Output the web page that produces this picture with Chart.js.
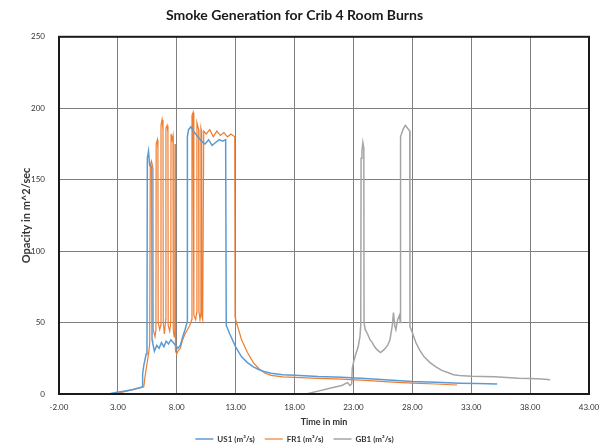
<!DOCTYPE html>
<html>
<head>
<meta charset="utf-8">
<script src="https://cdn.jsdelivr.net/npm/chart.js@4.4.1/dist/chart.umd.min.js"></script>
<style>
    html, body { margin: 0; padding: 0; background: #ffffff; }
</style>
</head>
<body>
<canvas id="smoke-chart" width="600" height="447"></canvas>
<script>
// Values (time in min, opacity in m^2/sec)
const xTicks = [-2, 3, 8, 13, 18, 23, 28, 33, 38, 43];

const us1Time = [2.2, 2.8, 3.5, 4.2, 4.9, 5.05, 5.1, 5.2, 5.3, 5.4, 5.47, 5.5, 5.6, 5.7, 5.8, 5.88, 5.9,
    5.95, 6.1, 6.3, 6.5, 6.7, 6.9, 7.1, 7.3, 7.5, 7.7, 7.9, 8.1, 8.3, 8.5, 8.7, 8.87, 8.9, 9.0, 9.2,
    9.5, 9.8, 10.1, 10.4, 10.7, 11.0, 11.3, 11.6, 11.9, 12.15, 12.2, 12.5, 13.0, 13.5, 14.0, 14.5,
    15.0, 15.5, 16.0, 17.0, 18.0, 20.0, 22.0, 24.0, 26.0, 28.0, 30.0, 32.0, 33.5, 35.2];
const us1Val = [0, 1, 2, 3, 4.5, 5, 14, 20, 24, 28, 32, 165, 170, 160, 160, 158, 38,
    36, 30, 34, 32, 36, 33, 37, 35, 38, 36, 34, 32, 34, 40, 45, 50, 180, 185, 187,
    183, 180, 177, 175, 178, 174, 176, 178, 177, 178, 48, 42, 33, 26, 22, 19,
    17, 15.5, 14.5, 13.5, 13.2, 12.3, 11.8, 10.8, 9.8, 8.8, 8.2, 7.6, 7.4, 7];

const fr1Time = [2.5, 3.2, 4.0, 4.8, 5.2, 5.3, 5.45, 5.6, 5.7, 5.75, 5.85, 5.98, 6.0, 6.15, 6.23,
    6.25, 6.35, 6.4, 6.42, 6.55, 6.64, 6.66, 6.75, 6.83, 6.85, 6.95, 7.06, 7.08, 7.18, 7.25,
    7.27, 7.4, 7.49, 7.51, 7.6, 7.68, 7.7, 7.78, 7.83, 7.85, 7.88, 7.9, 8.0, 8.1, 8.3, 8.5,
    8.7, 8.9, 9.1, 9.27, 9.29, 9.38, 9.44, 9.46, 9.6, 9.69, 9.71, 9.8, 9.86, 9.88, 9.97,
    10.03, 10.05, 10.1, 10.12, 10.2, 10.29, 10.5, 10.8, 11.1, 11.4, 11.7, 12.0, 12.3, 12.6,
    12.92, 12.95, 13.0, 13.5, 14.0, 14.5, 15.0, 15.5, 16.0, 17.0, 18.0, 20.0, 22.0, 24.0,
    26.0, 28.0, 30.0, 31.8];
const fr1Val = [0, 1, 2.5, 4, 5, 12, 20, 28, 35, 160, 163, 158, 45, 40, 45,
    175, 178, 172, 50, 45, 48, 188, 192, 185, 50, 42, 52, 186, 188, 183,
    48, 44, 50, 182, 178, 181, 45, 40, 45, 175, 172, 30, 28, 30, 32, 38,
    42, 45, 48, 52, 195, 197, 188, 55, 52, 57, 190, 187, 185, 58, 52,
    56, 186, 184, 55, 52, 184, 182, 185, 180, 184, 181, 183, 180, 182,
    180, 54, 52, 38, 29, 22, 17.5, 14.5, 13, 12, 11.6, 11, 10.4, 9.5,
    8.5, 7.6, 7, 6.3];

const gb1Time = [15.0, 19.0, 19.5, 20.0, 21.0, 22.0, 22.5, 22.7, 22.85, 22.9, 23.0, 23.2, 23.4,
    23.55, 23.62, 23.65, 23.72, 23.8, 23.88, 23.9, 24.0, 24.2, 24.4, 24.6, 24.8, 25.0, 25.3,
    25.6, 25.9, 26.1, 26.3, 26.4, 26.5, 26.6, 26.75, 26.9, 26.98, 27.0, 27.2, 27.4, 27.6,
    27.78, 27.8, 28.0, 28.3, 28.6, 29.0, 29.5, 30.0, 30.5, 31.0, 31.5, 32.0, 33.0, 34.0,
    35.0, 36.0, 37.0, 38.0, 39.0, 39.7];
const gb1Val = [0, 0, 1, 2, 4, 6, 8, 6, 7, 18, 22, 28, 33,
    40, 48, 165, 170, 176, 172, 50, 45, 42, 38, 36, 33, 31, 29,
    31, 34, 38, 48, 57, 48, 45, 52, 55, 50, 180, 185, 188, 186,
    184, 47, 43, 36, 31, 26, 22, 19, 16.5, 15, 13.5, 13, 12.5, 12.3,
    12, 11.5, 11, 10.8, 10.5, 10];

function toPoints(times, values) {
    return times.map((t, i) => ({ x: t, y: values[i] }));
}

// Draws the black frame round the plot area, like the Excel original
const frameBox = {
    id: "frameBox",
    afterDatasetsDraw(chart) {
        const { ctx, chartArea } = chart;
        ctx.save();
        ctx.strokeStyle = "#1a1a1a";
        ctx.lineWidth = 2;
        ctx.strokeRect(chartArea.left, chartArea.top, chartArea.right - chartArea.left, chartArea.bottom - chartArea.top);
        ctx.restore();
    }
};

const fontFamily = "Lato, 'Liberation Sans', sans-serif";

new Chart(document.getElementById("smoke-chart"), {
    type: "line",
    data: {
        datasets: [
            {
                label: "US1 (m³/s)",
                data: toPoints(us1Time, us1Val),
                borderColor: "#5B9BD5",
                backgroundColor: "#5B9BD5",
                borderWidth: 1.5,
                pointRadius: 0,
                tension: 0
            },
            {
                label: "FR1 (m³/s)",
                data: toPoints(fr1Time, fr1Val),
                borderColor: "#ED7D31",
                backgroundColor: "#ED7D31",
                borderWidth: 1.2,
                pointRadius: 0,
                tension: 0
            },
            {
                label: "GB1 (m³/s)",
                data: toPoints(gb1Time, gb1Val),
                borderColor: "#A5A5A5",
                backgroundColor: "#A5A5A5",
                borderWidth: 1.5,
                pointRadius: 0,
                tension: 0
            }
        ]
    },
    options: {
        responsive: false,
        animation: false,
        maintainAspectRatio: false,
        layout: { padding: { left: 0, right: 11, top: 0, bottom: -6 } },
        plugins: {
            title: {
                display: true,
                text: "Smoke Generation for Crib 4 Room Burns",
                color: "#1a1a1a",
                font: { family: fontFamily, size: 14, weight: "bold" },
                padding: { top: 7, bottom: 13 }
            },
            legend: {
                position: "bottom",
                labels: {
                    usePointStyle: true,
                    pointStyle: "line",
                    pointStyleWidth: 18,
                    color: "#333333",
                    font: { family: fontFamily, size: 8, weight: "bold" },
                    padding: 10
                }
            },
            tooltip: { enabled: false }
        },
        scales: {
            x: {
                type: "linear",
                min: -2,
                max: 43,
                afterBuildTicks: (scale) => {
                    scale.ticks = xTicks.map((v) => ({ value: v }));
                },
                afterFit: (scale) => {
                    scale.height = 31;
                    scale.paddingLeft = 0;
                    scale.paddingRight = 0;
                },
                ticks: {
                    callback: (v) => Number(v).toFixed(2),
                    color: "#333333",
                    font: { family: fontFamily, size: 8 },
                    maxRotation: 0,
                    padding: 9
                },
                grid: { color: "#808080", lineWidth: 1, drawTicks: false },
                border: { display: false },
                title: {
                    display: true,
                    text: "Time in min",
                    color: "#333333",
                    font: { family: fontFamily, size: 9, weight: "bold" },
                    padding: { top: 0, bottom: -2 }
                }
            },
            y: {
                min: 0,
                max: 250,
                afterFit: (scale) => { scale.width = 59; },
                ticks: {
                    stepSize: 50,
                    color: "#333333",
                    font: { family: fontFamily, size: 8 },
                    padding: 14
                },
                grid: { color: "#808080", lineWidth: 1, drawTicks: false },
                border: { display: false },
                title: {
                    display: true,
                    text: "Opacity in m^2/sec",
                    color: "#333333",
                    font: { family: fontFamily, size: 11, weight: "bold" },
                    padding: { top: 20, bottom: 0 }
                }
            }
        }
    },
    plugins: [frameBox]
});
</script>
</body>
</html>
